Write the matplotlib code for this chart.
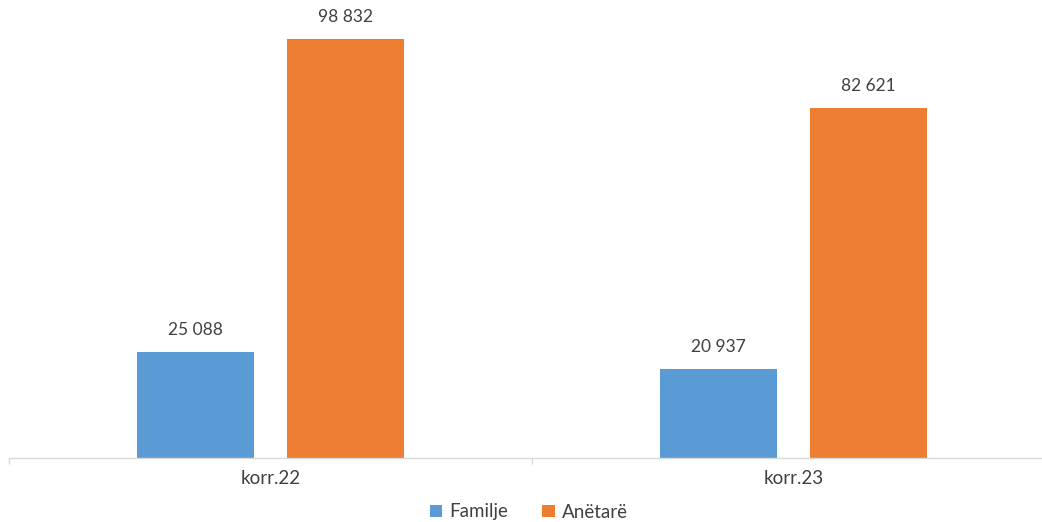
import matplotlib
matplotlib.use("Agg")
import matplotlib.pyplot as plt
import numpy as np

categories = ["korr.22", "korr.23"]
series_names = ["Familje", "Anëtarë"]
familje = [25088, 20937]
anetare = [98832, 82621]
colors = ["#5B9BD5", "#ED7D31"]

plt.rcParams['font.family'] = ['Lato', 'DejaVu Sans']

W, H = 1042, 522
fig = plt.figure(figsize=(W / 100, H / 100), dpi=100)
# plot area: left edge at 9px, baseline at 458px, extends past right edge
ax = fig.add_axes([9 / W, (H - 458) / H, 1046 / W, 458 / H])

x = np.arange(len(categories))
bw = 0.224
off = 0.143
text_col = "#404040"

for vals, sign, col, name in [(familje, -1, colors[0], series_names[0]),
                              (anetare, 1, colors[1], series_names[1])]:
    bars = ax.bar(x + sign * off, vals, width=bw, color=col, label=name, zorder=2)
    for b, v in zip(bars, vals):
        ax.annotate(f"{v:,}".replace(",", " "),
                    (b.get_x() + b.get_width() / 2, v),
                    xytext=(0, 10), textcoords="offset points",
                    ha="center", va="bottom", fontsize=12.5, color=text_col)

ax.set_xlim(-0.5, 1.5)
ax.set_ylim(0, 98832 * 458 / 419)

for s in ["top", "right", "left"]:
    ax.spines[s].set_visible(False)
ax.spines["bottom"].set_color("#D9D9D9")
ax.spines["bottom"].set_linewidth(1)
ax.set_yticks([])
ax.set_xticks(x)
ax.set_xticklabels(categories, fontsize=13.5, color=text_col)
ax.tick_params(axis="x", which="major", length=0, pad=9)
ax.set_xticks([-0.5, 0.5], minor=True)
ax.tick_params(axis="x", which="minor", length=4, color="#D9D9D9", width=1)

fig.legend(loc="center", bbox_to_anchor=(529 / W, 10 / H), ncol=2,
           frameon=False, handlelength=0.65, handleheight=0.65,
           handletextpad=0.4, columnspacing=1.8,
           prop={"size": 13.5}, labelcolor=text_col)

fig.savefig("out.png", dpi=100)
